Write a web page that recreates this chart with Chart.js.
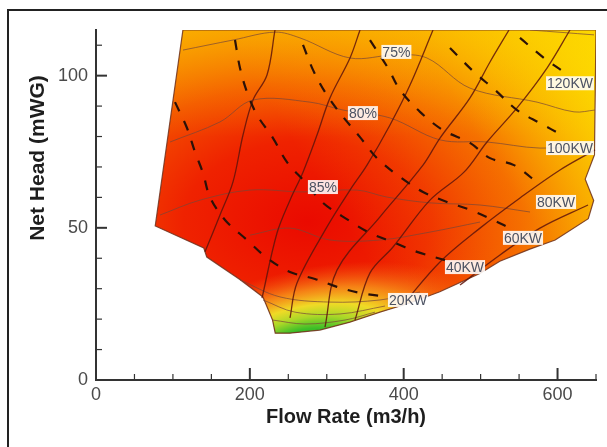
<!DOCTYPE html>
<html>
<head>
<meta charset="utf-8">
<script src="https://cdn.jsdelivr.net/npm/chart.js@4.4.1/dist/chart.umd.min.js"></script>
<style>
  body { margin: 0; background: #fff; }
  #wrap { position: relative; width: 607px; height: 447px; overflow: hidden; }
  #frame { position: absolute; left: 7px; top: 9px; width: 700px; height: 500px;
           border-left: 2px solid #222; border-top: 2px solid #222; }
  canvas { position: absolute; left: 0; top: 0; }
</style>
</head>
<body>
<div id="wrap">
  <div id="frame"></div>
  <canvas id="hillChart" width="607" height="447"></canvas>
</div>
<script>
// Axis ticks
const xTicks = [0, 200, 400, 600];
const yTicks = [0, 50, 100];

// Operating envelope [flow m3/h, head mWG]
const boundary = [[113,115],[650,115],[648,74],[636,66],[647,59],[640,53],[597,46],[564,43],[525,39],
  [499,35],[447,29],[408,25.3],[369,22.3],[330,19],[291,16.4],[252,15.4],[233,15.4],[229.5,19.7],
  [217,27.3],[187,33],[144,40.4],[140,43.4],[77,50.6],[113,115]];

// best efficiency point and low efficiency zone centre
const bestPoint = [275, 52];
const lowPoint = [268, 11.5];

// Constant power lines (dashed)
const power20 = [[102.7,91.3],[118.3,82.8],[128.7,74.9],[139.1,68],[148.2,60.1],[167.7,52.6],[196.3,46],
  [222.3,40.1],[252.2,35.5],[284.7,33.2],[313.3,30.6],[343.2,28.6],[379.6,27.3]];
const power40 = [[180.7,111.7],[187.2,102.5],[196.3,94.6],[209.3,87.1],[230.1,79.5],[248.3,71.6],[271.7,65.1],
  [295.1,58.2],[327.6,52.6],[356.2,48.3],[386.1,45.3],[417.3,42.1],[453.7,39.4]];
const power60 = [[269.1,110.1],[282.1,101.9],[297.7,94.6],[317.2,87.7],[343.2,79.8],[365.3,72.9],[395.2,66.7],
  [425.1,61.8],[456.3,58.5],[486.2,55.9],[516.1,52.6],[538.2,49.9]];
const power80 = [[356.2,111.7],[379.6,102.5],[395.2,95.3],[421.2,88.1],[451.1,82.1],[486.2,77.9],[512.2,72.9],
  [543.4,70.6],[577.2,64.1]];
const power100 = [[460.2,109.1],[491.4,101.2],[518.7,95.3],[547.3,88.7],[577.2,84.4],[605.8,80.5]];
const power120 = [[551.2,112.4],[582.4,105.8],[612.3,100.5]];

// Opening lines (solid)
const open1 = [[141.7,42.1],[161.2,54.2],[178.1,65.1],[191.1,80.5],[204.1,92],[222.3,100.2],[232.7,115]];
const open2 = [[215.8,26.9],[235.3,48.3],[252.2,59.1],[269.1,68.3],[287.3,80.5],[304.2,92.7],[330.2,105.8],[343.2,115]];
const open3 = [[252.2,20.4],[261.3,31.9],[300.3,50.3],[330.2,62.4],[352.3,70.6],[382.2,83.8],[408.2,96.9],[438.1,115]];
const open4 = [[297.7,17.4],[313.3,36.1],[369.2,53.6],[425.1,70.6],[447.2,79.5],[486.2,92.7],[512.2,104.5],[536.9,115]];
const open5 = [[336.7,19.7],[356.2,35.2],[386.1,43.7],[434.2,59.1],[478.4,68.3],[508.3,78.2],[547.3,89.4],[586.3,102.5],[616.2,115]];
const open6 = [[401.7,25.6],[447.2,38.8],[499.2,49.9],[551.2,59.8],[603.2,69],[648.7,75.6]];
const open7 = [[473.2,31.2],[525.2,41.1],[577.2,49.9],[639.6,57.5]];

// Efficiency contours (thin)
const eff70 = [[564.2,115],[647.4,113.4]];
const eff75 = [[113.1,108.4],[178.1,111.7],[232.7,114.3],[265.2,112.4],[330.2,105.8],[388.7,106.8],[430.3,105.8],
  [486.2,95.9],[573.3,91.3],[621.4,88.1],[648.7,88.7]];
const eff80 = [[96.2,78.2],[161.2,84.8],[204.1,92],[278.2,91.3],[321.1,88.7],[382.2,86.1],[447.2,78.9],
  [508.3,78.2],[577.2,76.2],[647.4,77.2]];
const eff85 = [[83.2,54.2],[135.2,59.1],[200.2,62.4],[269.1,61.8],[339.3,62.4],[378.3,60.1],[434.2,58.2],
  [499.2,57.5],[564.2,55.2]];
const eff90 = [[200.2,47.6],[252.2,49.9],[304.2,46],[369.2,46],[434.2,48.6],[499.2,51.9]];
const effLow1 = [[187.2,32.9],[239.2,27.3],[304.2,25.6],[369.2,26.3],[421.2,28.9]];
const effLow2 = [[217.1,26.3],[258.7,22.3],[317.2,21.7],[375.7,24.3]];
const effLow3 = [[229.5,19.7],[271.7,18.4],[323.7,19.7],[362.7,22.3]];

// Curve labels
const effLabels = ['75%', '80%', '85%'];
const effLabelAt = [[390.5,107.8],[347,87.7],[295,63.4]];
const powerLabels = ['120KW', '100KW', '80KW', '60KW', '40KW', '20KW'];
const powerLabelAt = [[616.2,97.5],[616.2,76.2],[598,58.5],[555.1,46.7],[479.7,37.1],[405.6,26.3]];

const FONT = "Arial, 'Liberation Sans', sans-serif";
const toPts = arr => arr.map(([q, h]) => ({ x: q, y: h }));

function curve(points, color, width, dash, tension) {
    return {
        data: toPts(points),
        borderColor: color,
        borderWidth: width,
        borderDash: dash || [],
        pointRadius: 0,
        tension: tension === undefined ? 0.35 : tension,
        fill: false
    };
}

const dashCol = '#2b1108';
const openCol = 'rgba(95,20,10,0.85)';
const effCol = 'rgba(120,70,55,0.7)';

// colour field of the hill chart, clipped to the envelope
const hillFill = {
    id: 'hillFill',
    beforeDatasetsDraw(chart) {
        const { ctx, chartArea: a, scales: { x, y } } = chart;
        ctx.save();
        ctx.beginPath();
        boundary.forEach(([q, h], i) => {
            const px = x.getPixelForValue(q), py = y.getPixelForValue(h);
            i ? ctx.lineTo(px, py) : ctx.moveTo(px, py);
        });
        ctx.closePath();
        ctx.clip();

        // main red-orange-yellow field
        ctx.save();
        ctx.translate(x.getPixelForValue(bestPoint[0]), y.getPixelForValue(bestPoint[1]));
        ctx.scale(370, 240);
        const g = ctx.createRadialGradient(0, 0, 0, 0, 0, 1.2);
        g.addColorStop(0, '#ea0a00');
        g.addColorStop(0.28, '#ef2200');
        g.addColorStop(0.48, '#f34e00');
        g.addColorStop(0.67, '#f78a00');
        g.addColorStop(0.83, '#fab600');
        g.addColorStop(1, '#fdd800');
        ctx.fillStyle = g;
        ctx.fillRect(-5, -5, 10, 10);
        ctx.restore();

        // yellow towards high head / high flow
        const lg = ctx.createLinearGradient(x.getPixelForValue(304), y.getPixelForValue(59),
            x.getPixelForValue(655), y.getPixelForValue(115));
        lg.addColorStop(0, 'rgba(253,228,0,0)');
        lg.addColorStop(0.5, 'rgba(252,215,0,0.25)');
        lg.addColorStop(1, 'rgba(254,236,0,0.9)');
        ctx.fillStyle = lg;
        ctx.fillRect(a.left, a.top, a.width, a.height);

        // lighter band along the top
        const tg = ctx.createLinearGradient(0, y.getPixelForValue(115), 0, y.getPixelForValue(80));
        tg.addColorStop(0, 'rgba(252,196,0,0.45)');
        tg.addColorStop(1, 'rgba(252,196,0,0)');
        ctx.fillStyle = tg;
        ctx.fillRect(a.left, a.top, a.width, a.height);

        // low efficiency band at small flow / low head
        ctx.save();
        ctx.translate(x.getPixelForValue(lowPoint[0]), y.getPixelForValue(lowPoint[1]));
        ctx.rotate(-13 * Math.PI / 180);
        ctx.scale(180, 75);
        const bg = ctx.createRadialGradient(0, 0, 0, 0, 0, 1);
        bg.addColorStop(0, 'rgba(30,170,30,1)');
        bg.addColorStop(0.2, 'rgba(60,190,40,1)');
        bg.addColorStop(0.35, 'rgba(170,215,40,1)');
        bg.addColorStop(0.5, 'rgba(240,228,40,0.95)');
        bg.addColorStop(0.7, 'rgba(248,170,30,0.7)');
        bg.addColorStop(1, 'rgba(245,110,20,0)');
        ctx.fillStyle = bg;
        ctx.fillRect(-4, -4, 8, 8);
        ctx.restore();

        ctx.restore();
    }
};

// inward tick marks, curve labels and axis titles
const decorations = {
    id: 'decorations',
    afterDraw(chart) {
        const { ctx, chartArea: a, scales: { x, y } } = chart;
        ctx.save();
        ctx.strokeStyle = '#333';
        for (let q = 0; q <= 650; q += 50) {
            const major = xTicks.includes(q);
            const px = x.getPixelForValue(q);
            ctx.lineWidth = major ? 2 : 1.2;
            ctx.beginPath();
            ctx.moveTo(px, a.bottom);
            ctx.lineTo(px, a.bottom - (major ? 12 : 6));
            ctx.stroke();
        }
        for (let h = 0; h <= 110; h += 10) {
            const major = yTicks.includes(h);
            const py = y.getPixelForValue(h);
            ctx.lineWidth = major ? 2 : 1.2;
            ctx.beginPath();
            ctx.moveTo(a.left, py);
            ctx.lineTo(a.left + (major ? 11 : 6), py);
            ctx.stroke();
        }

        // labels on the curves
        ctx.font = '14px ' + FONT;
        ctx.textAlign = 'center';
        ctx.textBaseline = 'middle';
        const drawLabel = (txt, [q, h]) => {
            const px = x.getPixelForValue(q), py = y.getPixelForValue(h);
            const w = ctx.measureText(txt).width;
            ctx.fillStyle = 'rgba(255,255,255,0.88)';
            ctx.fillRect(px - w / 2 - 1, py - 7, w + 2, 14);
            ctx.fillStyle = '#4c5262';
            ctx.fillText(txt, px, py + 1);
        };
        effLabels.forEach((t, i) => drawLabel(t, effLabelAt[i]));
        powerLabels.forEach((t, i) => drawLabel(t, powerLabelAt[i]));

        // axis titles
        ctx.fillStyle = '#1e1e1e';
        ctx.font = 'bold 20px ' + FONT;
        ctx.fillText('Flow Rate (m3/h)', (a.left + a.right) / 2, 417);
        ctx.font = 'bold 21px ' + FONT;
        ctx.translate(38, 158);
        ctx.rotate(-Math.PI / 2);
        ctx.fillText('Net Head (mWG)', 0, 0);
        ctx.restore();
    }
};

const hillCtx = document.getElementById('hillChart').getContext('2d');
new Chart(hillCtx, {
    type: 'line',
    data: {
        datasets: [
            curve(power20, dashCol, 2.2, [10, 11]),
            curve(power40, dashCol, 2.2, [10, 11]),
            curve(power60, dashCol, 2.2, [10, 11]),
            curve(power80, dashCol, 2.2, [10, 11]),
            curve(power100, dashCol, 2.2, [10, 11]),
            curve(power120, dashCol, 2.2, [10, 11]),
            curve(open1, openCol, 1.3),
            curve(open2, openCol, 1.3),
            curve(open3, openCol, 1.3),
            curve(open4, openCol, 1.3),
            curve(open5, openCol, 1.3),
            curve(open6, openCol, 1.3),
            curve(open7, openCol, 1.3),
            curve(eff70, effCol, 1),
            curve(eff75, effCol, 1),
            curve(eff80, effCol, 1),
            curve(eff85, effCol, 1),
            curve(eff90, effCol, 1),
            curve(effLow1, effCol, 1),
            curve(effLow2, effCol, 1),
            curve(effLow3, effCol, 1),
            curve(boundary, 'rgba(110,50,30,0.85)', 1.2, [], 0)
        ]
    },
    options: {
        responsive: false,
        animation: false,
        devicePixelRatio: 1,
        events: [],
        layout: { padding: { left: 0, right: 11, top: 30, bottom: 0 } },
        plugins: { legend: { display: false }, tooltip: { enabled: false } },
        scales: {
            x: {
                type: 'linear', min: 0, max: 650,
                afterBuildTicks: s => { s.ticks = xTicks.map(v => ({ value: v })); },
                afterFit: s => { s.height = 67; },
                grid: { display: false, drawTicks: false },
                border: { display: true, color: '#333', width: 2 },
                ticks: { font: { family: FONT, size: 18 }, color: '#4a4a4a', padding: 4, maxRotation: 0, autoSkip: false }
            },
            y: {
                type: 'linear', min: 0, max: 115,
                afterBuildTicks: s => { s.ticks = yTicks.map(v => ({ value: v })); },
                afterFit: s => { s.width = 96; },
                grid: { display: false, drawTicks: false },
                border: { display: true, color: '#333', width: 2 },
                ticks: { font: { family: FONT, size: 18 }, color: '#4a4a4a', padding: 8, autoSkip: false }
            }
        }
    },
    plugins: [hillFill, decorations]
});
</script>
</body>
</html>
